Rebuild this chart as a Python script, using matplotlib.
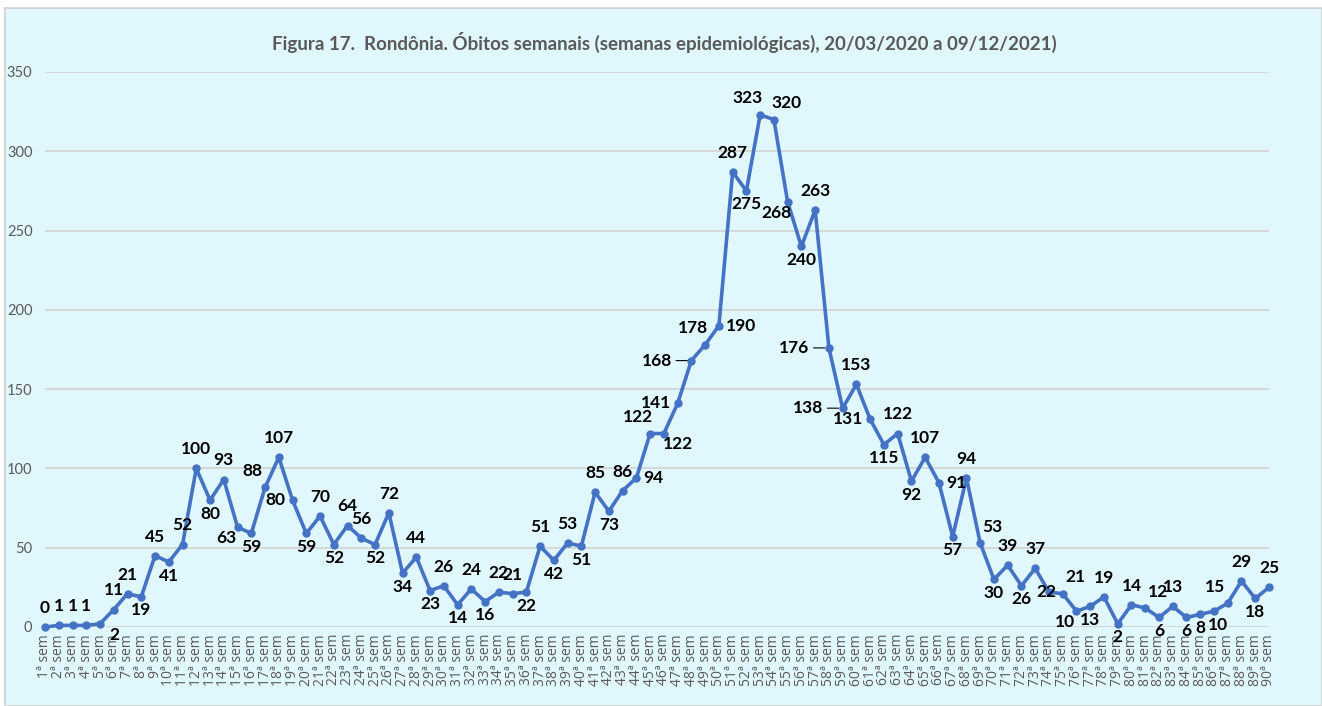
import matplotlib.pyplot as plt
from matplotlib.patches import Rectangle

# weekly deaths, Rondônia (epidemiological weeks 1..90)
weeks = [f"{i}ª sem" for i in range(1, 91)]
obitos = [0, 1, 1, 1, 2, 11, 21, 19, 45, 41,
          52, 100, 80, 93, 63, 59, 88, 107, 80, 59,
          70, 52, 64, 56, 52, 72, 34, 44, 23, 26,
          14, 24, 16, 22, 21, 22, 51, 42, 53, 51,
          85, 73, 86, 94, 122, 122, 141, 168, 178, 190,
          287, 275, 323, 320, 268, 240, 263, 176, 138, 153,
          131, 115, 122, 92, 107, 91, 57, 94, 53, 30,
          39, 26, 37, 22, 21, 10, 13, 19, 2, 14,
          12, 6, 13, 6, 8, 10, 15, 29, 18, 25]
# where the data label sits relative to its point
label_pos = ["a", "a", "a", "a", "br", "a", "a", "b", "a", "b",
             "a", "a", "b", "a", "bl", "b", "al", "a", "l", "b",
             "a", "b", "a", "a", "b", "a", "b", "a", "b", "a",
             "b", "a", "b", "a", "a", "b", "a", "b", "a", "b",
             "a", "b", "a", "r", "al", "br", "l", "l", "al", "r",
             "a", "b", "al", "ar", "bl", "b", "a", "l", "l", "a",
             "l", "b", "a", "b", "a", "r", "b", "a", "ar", "b",
             "a", "b", "a", "c", "ar", "bl", "b", "a", "b", "a",
             "ar", "b", "a", "b", "b", "b", "al", "a", "b", "a"]

title = "Figura 17.  Rondônia. Óbitos semanais (semanas epidemiológicas), 20/03/2020 a 09/12/2021)"

fig = plt.figure(figsize=(13.22, 7.06), dpi=100)
fig.patch.set_facecolor("white")
fig.patches.append(Rectangle((5 / 1322, 0), 1 - 5 / 1322, 1 - 8 / 706, transform=fig.transFigure,
                             facecolor="#E1F7FE", edgecolor="#D0D0D0", lw=1.2, zorder=-1))

ax = fig.add_axes([45 / 1322, 79 / 706, 1224 / 1322, 555 / 706])
ax.set_facecolor("none")
x = list(range(len(obitos)))
ax.plot(x, obitos, color="#4472C4", lw=2.6, marker="o", ms=5, zorder=3, clip_on=False)

ax.set_xlim(0, len(obitos) - 1)
ax.set_ylim(0, 350)
ax.set_yticks(range(0, 351, 50))
ax.yaxis.grid(True, color="#D5D5D5", lw=1.3)
ax.set_axisbelow(True)
for s in ax.spines.values():
    s.set_visible(False)
ax.tick_params(length=0)
ax.tick_params(axis="y", labelsize=10.5, labelcolor="#595959", pad=9)
for t in ax.get_yticklabels():
    t.set_family(["Lato", "DejaVu Sans"])
ax.set_xticks(x)
ax.set_xticklabels(weeks, rotation=90, fontsize=10, color="#595959",
                   family=["Open Sans", "DejaVu Sans"])
ax.tick_params(axis="x", pad=5)

lab_font = dict(fontsize=12.5, fontweight="bold", color="black", family=["Lato", "DejaVu Sans"])
offs = {"a": (0, 8, "center", "bottom"), "b": (0, -4, "center", "top"),
        "l": (-5, 0, "right", "center"), "r": (5, 0, "left", "center"),
        "c": (-2, 0, "center", "center"),
        "al": (-9, 6, "center", "bottom"), "ar": (9, 6, "center", "bottom"),
        "bl": (-8, -2, "center", "top"), "br": (10, -2, "center", "top")}
leader = {47, 57, 58}
for i, (v, p) in enumerate(zip(obitos, label_pos)):
    dx, dy, ha, va = offs[p]
    if i in leader:
        ax.annotate(str(v), (i, v), xytext=(-14, 0), textcoords="offset points",
                    ha=ha, va=va, arrowprops=dict(arrowstyle="-", lw=0.8, color="black",
                                                  shrinkA=1, shrinkB=3), **lab_font)
    else:
        if i == 85:
            dx = 3
        ax.annotate(str(v), (i, v), xytext=(dx, dy), textcoords="offset points",
                    ha=ha, va=va, **lab_font)

fig.text(664 / 1322, 1 - 42 / 706, title, ha="center", va="center", fontsize=13.5,
         fontweight="bold", color="#595959", family=["Lato", "DejaVu Sans"])

fig.savefig("out.png", dpi=100)
